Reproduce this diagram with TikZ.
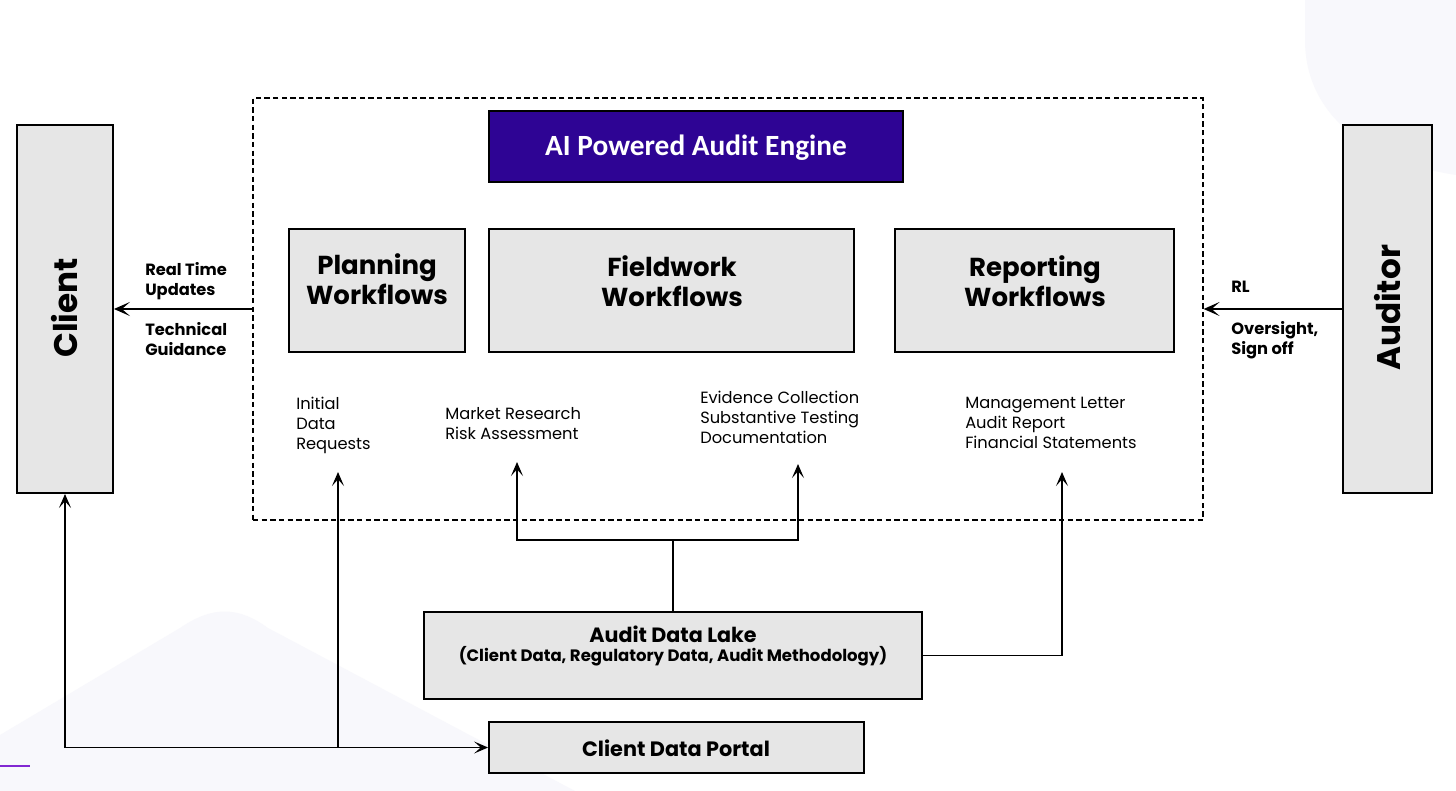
\documentclass[tikz,border=0pt]{standalone}
\usepackage{fontspec}
\setmainfont{Poppins}
\newfontfamily\calfont{Carlito}
\usetikzlibrary{arrows.meta,fit}
\definecolor{boxgray}{RGB}{230,230,230}
\definecolor{engine}{RGB}{46,4,148}
\definecolor{faint}{RGB}{248,248,252}
\definecolor{accent}{RGB}{130,40,210}
\tikzset{
  box/.style={draw=black, fill=boxgray, line width=1.4pt, inner sep=0pt},
  head/.style={font=\fontsize{19.5}{22.5}\selectfont\bfseries, align=center, inner sep=0pt},
  side/.style={font=\fontsize{24.5}{28}\selectfont\bfseries, inner sep=0pt},
  lbl/.style={font=\fontsize{12.2}{15}\selectfont\bfseries, align=left, inner sep=0pt, anchor=north west},
  note/.style={font=\fontsize{12.2}{15}\selectfont, align=left, inner sep=0pt, anchor=north west},
  conn/.style={line width=1.1pt, -{Stealth[length=10.5pt,width=9pt,inset=5pt]}},
  link/.style={line width=1.1pt},
  bigconn/.style={line width=1.8pt, -{Stealth[length=12pt,width=10.5pt,inset=6pt]}},
}
\begin{document}
\begin{tikzpicture}[x=0.75pt,y=-0.75pt]
\useasboundingbox (0,0) rectangle (1456,791);
\fill[white] (0,0) rectangle (1456,791);
% faint background shapes
\fill[faint] (1305,0) -- (1456,0) -- (1456,175) .. controls (1360,160) and (1305,110) .. (1305,40) -- cycle;
\fill[faint] (0,735) -- (180,628) .. controls (212,606) and (238,606) .. (268,628) -- (575,791) -- (0,791) -- cycle;
\draw[accent, line width=0.9pt] (0,766) -- (30,766);

% dashed engine frame
\node[draw=black, dashed, dash pattern=on 4pt off 2.5pt, line width=0.9pt, inner sep=0pt, fit={(253,98) (1203,520)}] (frame) {};

% engine title
\node[fill=engine, draw=black, line width=0.8pt, inner sep=0pt, fit={(489,111) (903,182)}] (engine) {};
\node[text=white, font=\calfont\fontsize{22}{26}\selectfont\bfseries, inner sep=0pt] (enginetxt) at (696,148) {AI Powered Audit Engine};

% side actors
\node[box, fit={(17,125) (113,493)}] (client) {};
\node[side, rotate=90] (clienttxt) at (65,308) {Client};
\node[box, fit={(1343,125) (1432,493)}] (auditor) {};
\node[side, rotate=90] (auditortxt) at (1388,308) {Auditor};

% workflow boxes
\node[box, fit={(289,229) (465,352)}] (plan) {};
\node[head] (plantxt) at (377,279) {Planning\\Workflows};
\node[box, fit={(489,229) (854,352)}] (field) {};
\node[head] (fieldtxt) at (672,281) {Fieldwork\\Workflows};
\node[box, fit={(895,229) (1174,352)}] (report) {};
\node[head] (reporttxt) at (1035,281) {Reporting\\Workflows};

% outputs
\node[note] (initial) at (296,397) {Initial\\Data\\Requests};
\node[note] (market) at (445,407) {Market Research\\Risk Assessment};
\node[note] (evidence) at (700,391) {Evidence Collection\\Substantive Testing\\Documentation};
\node[note] (mgmt) at (965,397) {Management Letter\\Audit Report\\Financial Statements};

% side labels
\node[lbl] (rt) at (145,262) {Real Time\\Updates};
\node[lbl] (tg) at (145,322) {Technical\\Guidance};
\node[lbl] (rl) at (1231,281) {RL};
\node[lbl] (ov) at (1231,321) {Oversight,\\Sign off};

% data lake & portal
\node[box, fit={(424,612) (922,699)}] (lake) {};
\node[font=\fontsize{15.5}{18}\selectfont\bfseries, inner sep=0pt] (laketitle) at (673,634) {Audit Data Lake};
\node[font=\fontsize{12.4}{15}\selectfont\bfseries, inner sep=0pt] (lakesub) at (673,656) {(Client Data, Regulatory Data, Audit Methodology)};
\node[box, fit={(489,722) (864,773)}] (portal) {};
\node[font=\fontsize{15.6}{18}\selectfont\bfseries, inner sep=0pt] (portaltxt) at (676,748) {Client Data Portal};

% connector points
\coordinate (split) at (673,540);
\coordinate (mtip) at (517,462);
\coordinate (etip) at (798,464);
\coordinate (rtip) at (1062,472);
\coordinate (itip) at (338,472);
\coordinate (corner) at (65,747.5);
\coordinate (branch) at (338,747.5);

% connectors
\draw[bigconn] (frame.west) -- (client.east);
\draw[bigconn] (auditor.west) -- (frame.east);
\draw[link] (lake.north) -- (split);
\draw[conn] (split) -| (mtip);
\draw[conn] (split) -| (etip);
\draw[conn] (lake.east) -| (rtip);
\draw[conn] (corner) -- (portal.west);
\draw[conn] (corner) -- (client.south);
\draw[conn] (branch) -- (itip);
\end{tikzpicture}
\end{document}
